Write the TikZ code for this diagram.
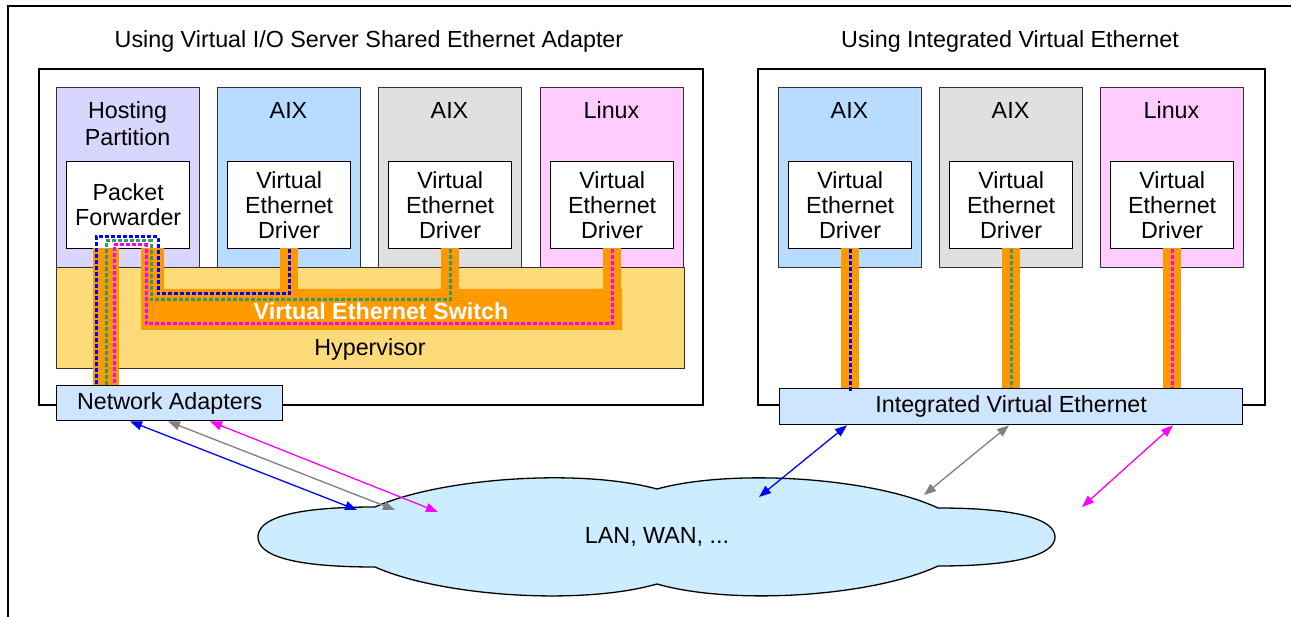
\documentclass[tikz,border=0pt]{standalone}
\usepackage{fontspec}
\setmainfont{Liberation Sans}
\usetikzlibrary{arrows.meta,calc}
\definecolor{cHost}{RGB}{216,213,255}
\definecolor{cAix}{RGB}{183,220,255}
\definecolor{cGray}{RGB}{224,224,224}
\definecolor{cLinux}{RGB}{255,204,255}
\definecolor{cHyp}{RGB}{253,219,122}
\definecolor{cOrange}{RGB}{255,153,0}
\definecolor{cAdapt}{RGB}{206,229,255}
\definecolor{cCloud}{RGB}{204,236,255}
\definecolor{cGreen}{RGB}{51,153,102}
\definecolor{cBlue}{RGB}{0,0,255}
\definecolor{cMag}{RGB}{255,0,255}
\definecolor{cBorder}{RGB}{50,50,50}
\definecolor{cArrGray}{RGB}{128,128,128}
\begin{document}
\begin{tikzpicture}[x=1pt,y=-1pt,
  every node/.style={font=\fontsize{23.3}{25}\selectfont},
  box/.style 2 args={minimum width=#1,minimum height=#2,anchor=north west,inner sep=0pt},
  outerbox/.style={draw=black,line width=1.8pt,fill=white},
  part/.style={draw=cBorder,line width=1.3pt},
  drv/.style={draw=black,line width=1.3pt,fill=white,align=center},
  adapt/.style={draw=black,line width=1.3pt,fill=cAdapt},
  lbl/.style={align=center,inner sep=0pt},
  dotb/.style={draw=cBlue,line width=3pt,dash pattern=on 3.5pt off 2.5pt},
  dotg/.style={draw=cGreen,line width=3pt,dash pattern=on 3.5pt off 2.5pt},
  dotm/.style={draw=cMag,line width=3pt,dash pattern=on 3.5pt off 2.5pt},
  arr/.style={line width=1.3pt,{Triangle[length=12pt,width=9pt]}-{Triangle[length=12pt,width=9pt]}}
]
\useasboundingbox (0,0) rectangle (1291,617);
\fill[white] (0,0) rectangle (1291,617);
% outer frame
\draw[line width=1.3pt] (8,617) -- (8,6) -- (1291,6);
% titles
\node (t1) at (369,41) {Using Virtual I/O Server Shared Ethernet Adapter};
\node (t2) at (1010,41) {Using Integrated Virtual Ethernet};
% big boxes
\node[outerbox, box={664}{336}] (lbox) at (38,68) {};
\node[outerbox, box={507}{336}] (rbox) at (757,68) {};
% partitions left
\node[part, fill=cHost, box={143}{180}] (pH) at (56,87) {};
\node[part, fill=cAix, box={143}{180}] (pA1) at (217,87) {};
\node[part, fill=cGray, box={143}{180}] (pA2) at (378,87) {};
\node[part, fill=cLinux, box={143}{180}] (pL1) at (540,87) {};
% partitions right
\node[part, fill=cAix, box={143}{180}] (pA3) at (778,87) {};
\node[part, fill=cGray, box={143}{180}] (pA4) at (939,87) {};
\node[part, fill=cLinux, box={143}{180}] (pL2) at (1100,87) {};
% partition labels
\node[lbl] (lH) at (127.5,124) {Hosting\\[2pt]Partition};
\node[lbl] (lA1) at (288.5,110) {AIX};
\node[lbl] (lA2) at (449.5,110) {AIX};
\node[lbl] (lL1) at (611.5,110) {Linux};
\node[lbl] (lA3) at (849.5,110) {AIX};
\node[lbl] (lA4) at (1010.5,110) {AIX};
\node[lbl] (lL2) at (1171.5,110) {Linux};
% hypervisor
\node[part, fill=cHyp, box={628}{101}] (hyp) at (56,267) {};
% drivers
\node[drv, box={123}{87}] (fwd) at (66,161) {Packet\\Forwarder};
\node[drv, box={123}{87}] (d1) at (227,161) {Virtual\\Ethernet\\Driver};
\node[drv, box={123}{87}] (d2) at (388,161) {Virtual\\Ethernet\\Driver};
\node[drv, box={123}{87}] (d3) at (550,161) {Virtual\\Ethernet\\Driver};
\node[drv, box={123}{87}] (d4) at (788,161) {Virtual\\Ethernet\\Driver};
\node[drv, box={123}{87}] (d5) at (949,161) {Virtual\\Ethernet\\Driver};
\node[drv, box={123}{87}] (d6) at (1110,161) {Virtual\\Ethernet\\Driver};
% orange switch and links
\fill[cOrange] (93,248) rectangle (119,386);
\fill[cOrange] (141,248) -- (164,248) -- (164,289) -- (622,289) -- (622,330) -- (141,330) -- cycle;
\fill[cOrange] (280,248) rectangle (298,290);
\fill[cOrange] (441,248) rectangle (459,290);
\fill[cOrange] (603,248) rectangle (621,290);
\fill[cOrange] (841,248) rectangle (859,388);
\fill[cOrange] (1002,248) rectangle (1020,388);
\fill[cOrange] (1163,248) rectangle (1181,388);
\node[font=\fontsize{23.3}{25}\selectfont\bfseries, text=white] (vsw) at (381,311) {Virtual Ethernet Switch};
\node (lhyp) at (370,349) {Hypervisor};
% adapters
\node[adapt, box={226}{35}] (netad) at (56,385) {Network Adapters};
\node[adapt, box={463}{36}] (ive) at (779,388) {Integrated Virtual Ethernet};
% dotted paths left
\draw[dotb] (d1.south) |- (158,294) |- (96,237) -- (96,237 |- netad.north);
\draw[dotg] (d2.south) |- (151,300) |- (106,241) -- (106,241 |- netad.north);
\draw[dotm] (d3.south) |- (146,324) |- (114,245) -- (114,245 |- netad.north);
% dotted paths right
\draw[dotb] (d4.south) -- ([yshift=-4pt]d4.south |- ive.north);
\draw[dotg] (d5.south) -- (d5.south |- ive.north);
\draw[dotm] (d6.south) -- (d6.south |- ive.north);
% cloud
\draw[fill=cCloud, line width=1.3pt] (375,507)
  .. controls (440,478) and (580,468) .. (657,489)
  .. controls (734,468) and (874,478) .. (938,508)
  .. controls (1020,508) and (1055,520) .. (1055,537)
  .. controls (1055,554) and (1020,566) .. (938,566)
  .. controls (874,596) and (734,606) .. (657,584)
  .. controls (580,606) and (440,596) .. (375,567)
  .. controls (290,567) and (258,555) .. (258,537)
  .. controls (258,519) and (290,507) .. (375,507) -- cycle;
\node (lan) at (657,537) {LAN, WAN, ...};
\coordinate (c1) at (357,510);
\coordinate (c2) at (395,510);
\coordinate (c3) at (438,512);
\coordinate (c4) at (759,497);
\coordinate (c5) at (924,495);
\coordinate (c6) at (1082,507);
% arrows
\draw[arr, cBlue] ([xshift=74pt]netad.south west) -- (c1);
\draw[arr, cArrGray] ([xshift=112pt]netad.south west) -- (c2);
\draw[arr, cMag] ([xshift=154pt]netad.south west) -- (c3);
\draw[arr, cBlue] ([xshift=68pt]ive.south west) -- (c4);
\draw[arr, cArrGray] ([xshift=230pt]ive.south west) -- (c5);
\draw[arr, cMag] ([xshift=394pt]ive.south west) -- (c6);
\end{tikzpicture}
\end{document}
